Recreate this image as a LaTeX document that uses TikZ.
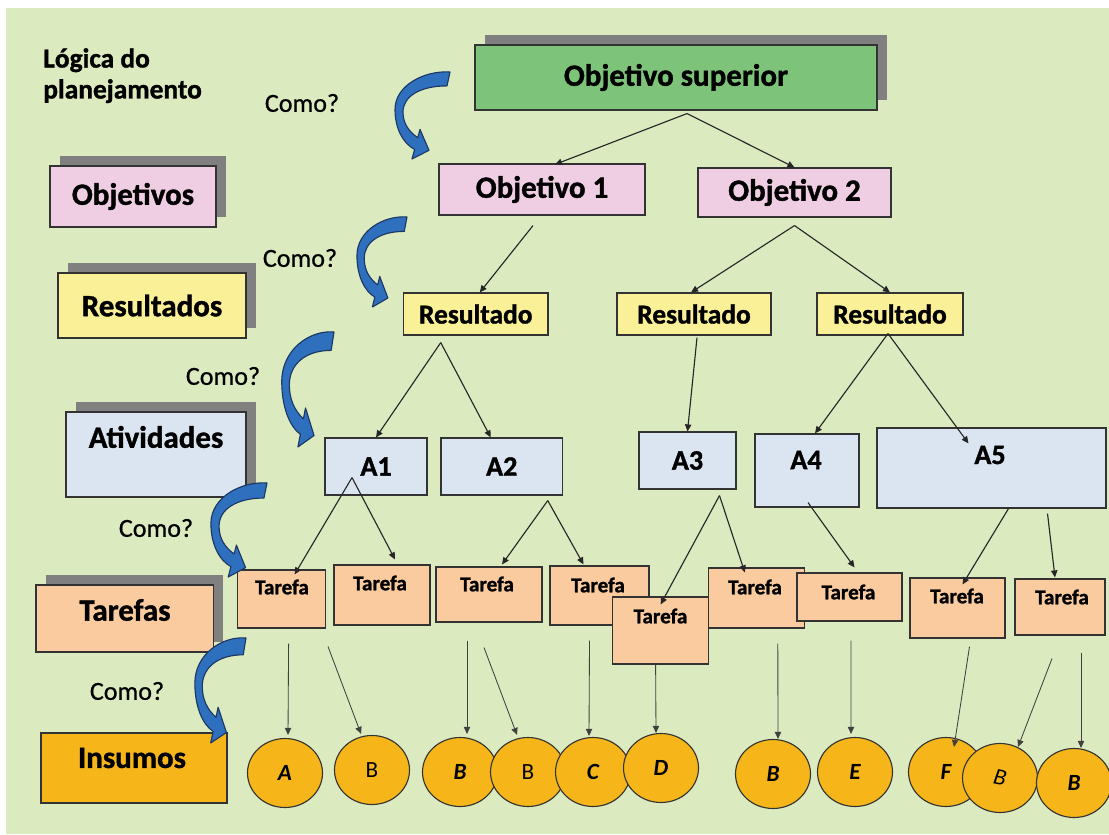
\documentclass[tikz,border=0pt]{standalone}
\usepackage{fontspec}
\usepackage{graphicx}
\setmainfont{Carlito}[BoldFeatures={FakeBold=1.2}]
\newfontfamily\comofont{Carlito}[FakeBold=0.8]
\usetikzlibrary{arrows.meta,shapes.geometric,shadows,calc}

\definecolor{fundo}{RGB}{220,234,192}
\definecolor{verde}{RGB}{125,196,122}
\definecolor{rosa}{RGB}{239,206,228}
\definecolor{amarelo}{RGB}{250,240,152}
\definecolor{azulclaro}{RGB}{219,229,241}
\definecolor{pessego}{RGB}{251,203,160}
\definecolor{laranja}{RGB}{246,182,26}
\definecolor{sombra}{RGB}{128,128,128}
\definecolor{azul}{RGB}{46,112,190}
\definecolor{azulescuro}{RGB}{28,55,100}

\tikzset{
  box/.style 2 args={draw=black!80, line width=0.8pt, inner sep=0pt,
    minimum width=#1*0.025cm, minimum height=#2*0.025cm},
  sombreado/.style={drop shadow={shadow xshift=7pt, shadow yshift=7pt, fill=sombra, opacity=1}},
  grande/.style={font=\bfseries\fontsize{22}{26}\selectfont},
  medio/.style={font=\bfseries\fontsize{20}{24}\selectfont},
  resfont/.style={font=\bfseries\fontsize{19.5}{23}\selectfont},
  tarefa/.style={font=\bfseries\fontsize{15}{18}\selectfont},
  titulo/.style={font=\bfseries\fontsize{19.5}{22}\selectfont, align=left, inner sep=0pt},
  como/.style={font=\comofont\fontsize{18.5}{22}\selectfont},
  insumo/.style={ellipse, draw=black!80, line width=0.8pt, fill=laranja, inner sep=0pt,
    minimum width=75*0.025cm, minimum height=69*0.025cm, font=\bfseries\fontsize{16.5}{18}\selectfont},
  liga/.style={-{Triangle[length=5pt,width=4.5pt]}, line width=0.8pt, draw=black!85},
  fluxo/.style={-{Triangle[length=5pt,width=4.5pt]}, line width=0.6pt, draw=black!75},
  comoarrow/.pic={
    \draw[fill=azul, draw=azulescuro, line width=0.8pt, line join=round]
      (0,0) .. controls (-25,-2) and (-55,15) .. (-55,43)
      .. controls (-55,65) and (-47,82) .. (-35.4,89)
      -- (-38,100) -- (-21,90) -- (-30,66) -- (-32.2,75.5)
      .. controls (-42,68) and (-47,58) .. (-47,46)
      .. controls (-47,28) and (-30,16) .. (-3,16) -- cycle;
  }
}

\begin{document}
\begin{tikzpicture}[x=0.025cm, y=-0.025cm]
\useasboundingbox (0,0) rectangle (1109,834);
\fill[white] (0,0) rectangle (1109,834);
\fill[fundo] (6,8) rectangle (1109,834);

% coluna da esquerda
\node[titulo, anchor=north west] (logica) at (43,48) {Lógica do\\planejamento};
\node[box={166}{61}, sombreado, fill=rosa, grande] (lobj) at (133,196.5) {Objetivos};
\node[box={188}{65}, sombreado, fill=amarelo, grande] (lres) at (152,305.5) {Resultados};
\node[box={180}{85}, sombreado, fill=azulclaro] (latv) at (156,454.5) {};
\node[grande] (latvx) at (156,437) {Atividades};
\node[box={177.5}{67}, sombreado, fill=pessego] (ltar) at (124.75,618.5) {};
\node[grande] (ltarx) at (125,610) {Tarefas};
\node[box={186}{70}, fill=laranja] (lins) at (134,768) {};
\node[grande] (linsx) at (132,758) {Insumos};

\node[como] (como1) at (302,103) {Como?};
\node[como] (como2) at (300,258) {Como?};
\node[como] (como3) at (223,376) {Como?};
\node[como] (como4) at (156,528) {Como?};
\node[como] (como5) at (127,691) {Como?};

% objetivos e resultados
\node[box={402}{65}, sombreado, fill=verde, grande] (objsup) at (676,77.5) {Objetivo superior};
\node[box={206}{51}, fill=rosa, grande] (obj1) at (542,189.5) {Objetivo 1};
\node[box={193}{49}, fill=rosa, grande] (obj2) at (794.5,192.5) {Objetivo 2};
\node[box={144.5}{42}, fill=amarelo, resfont] (res1) at (475.75,314) {Resultado};
\node[box={154}{42}, fill=amarelo, resfont] (res2) at (694,314) {Resultado};
\node[box={146}{42}, fill=amarelo, resfont] (res3) at (890,314) {Resultado};

% atividades
\node[box={102}{57}, fill=azulclaro, medio] (a1) at (376,466.5) {A1};
\node[box={121.5}{57}, fill=azulclaro, medio] (a2) at (501.75,466.5) {A2};
\node[box={97}{57}, fill=azulclaro, medio] (a3) at (687.5,460.5) {A3};
\node[box={104}{73}, fill=azulclaro] (a4) at (807,470.5) {};
\node[medio] (a4x) at (806,460) {A4};
\node[box={229}{80}, fill=azulclaro] (a5) at (991.5,468) {};
\node[medio] (a5x) at (990,455) {A5};

% tarefas
\node[box={88}{58}, fill=pessego] (t1) at (281.6,599) {};
\node[tarefa] (t1x) at (282,587) {Tarefa};
\node[box={96}{60}, fill=pessego] (t2) at (382,595) {};
\node[tarefa] (t2x) at (380,583) {Tarefa};
\node[box={106}{55}, fill=pessego] (t3) at (489,594.5) {};
\node[tarefa] (t3x) at (487,584) {Tarefa};
\node[box={99}{59}, fill=pessego] (t4) at (599.5,595.5) {};
\node[tarefa] (t4x) at (598,585) {Tarefa};
\node[box={96}{67}, fill=pessego] (t5) at (660.6,630.5) {};
\node[tarefa] (t5x) at (660.5,616) {Tarefa};
\node[box={96}{60}, fill=pessego] (t6) at (756.8,598) {};
\node[tarefa] (t6x) at (755,587) {Tarefa};
\node[box={105}{48}, fill=pessego] (t7) at (849.5,597) {};
\node[tarefa] (t7x) at (848.5,592) {Tarefa};
\node[box={95}{60}, fill=pessego] (t8) at (957.5,608) {};
\node[tarefa] (t8x) at (957,596) {Tarefa};
\node[box={90}{56}, fill=pessego] (t9) at (1060,607) {};
\node[tarefa] (t9x) at (1062,597) {Tarefa};

% insumos
\node[insumo] (i1) at (285,773) {\itshape A};
\node[insumo] (i2) at (372,770) {\mdseries B};
\node[insumo] (i3) at (460,772) {\itshape B};
\node[insumo] (i4) at (528,772) {\mdseries B};
\node[insumo] (i5) at (593,772) {\itshape C};
\node[insumo] (i6) at (661,768) {\itshape D};
\node[insumo] (i7) at (773,774) {\itshape B};
\node[insumo] (i8) at (855,772) {\itshape E};
\node[insumo] (i9) at (946,772) {\itshape F};
\node[insumo] (i10) at (1000,778) {\rotatebox{-12}{\mdseries\itshape B}};
\node[insumo] (i11) at (1074,783) {\itshape B};

% ligacoes
\draw[liga] ($(objsup.south)+(11,3)$) -- ($(obj1.north)+(13,1)$);
\draw[liga] ($(objsup.south)+(11,3)$) -- (obj2.north);
\draw[liga] ($(obj1.south)+(-9,10)$) -- ($(res1.north)+(4,0)$);
\draw[liga] ($(obj2.south)+(0,8)$) -- ($(res2.north)+(-3,0)$);
\draw[liga] ($(obj2.south)+(0,8)$) -- (res3.north);
\draw[liga] ($(res1.south)+(-35,7)$) -- (a1.north);
\draw[liga] ($(res1.south)+(-35,7)$) -- ($(a2.north)+(-11,0)$);
\draw[liga] ($(res2.south)+(3,2)$) -- (a3.north);
\draw[liga] ($(res3.south)+(-2,-2)$) -- ($(a4.north)+(8,0)$);
\draw[liga] ($(res3.south)+(-2,-2)$) -- ($(a5.north)+(-23,16)$);
\draw[liga] ($(a1.south)+(-24,-18)$) -- ($(t1.north)+(13,5)$);
\draw[liga] ($(a1.south)+(-24,-18)$) -- ($(t2.north)+(13,-5)$);
\draw[liga] ($(a2.south)+(46,5)$) -- ($(t3.north)+(13,-2)$);
\draw[liga] ($(a2.south)+(46,5)$) -- ($(t4.north)+(-16,-1)$);
\draw[liga] ($(a3.south)+(32,6)$) -- ($(t5.north)+(0,8)$);
\draw[liga] ($(a3.south)+(32,6)$) -- ($(t6.north)+(-12,5)$);
\draw[liga] ($(a4.south)+(1,-5)$) -- ($(t7.north)+(5,-5)$);
\draw[liga] ($(a5.south)+(17,0)$) -- ($(t8.north)+(5,7)$);
\draw[liga] ($(a5.south)+(56,5)$) -- ($(t9.north)+(-5,-1)$);

\draw[fluxo] ($(t1.south)+(7,15)$) -- ($(i1.north)+(3,-3)$);
\draw[fluxo] ($(t2.south)+(-54,21)$) -- ($(i2.north)+(-11,-1)$);
\draw[fluxo] ($(t3.south)+(-22,18)$) -- ($(i3.north)+(7,-3)$);
\draw[fluxo] ($(t3.south)+(-5,25)$) -- ($(i4.north)+(-11,-2)$);
\draw[fluxo] ($(t4.south)+(-10,15)$) -- ($(i5.north)+(-4,-1)$);
\draw[fluxo] ($(t5.south)+(-5,0)$) -- ($(i6.north)+(-5,0)$);
\draw[fluxo] ($(t6.south)+(21,15)$) -- ($(i7.north)+(5,0)$);
\draw[fluxo] ($(t7.south)+(1.5,19)$) -- ($(i8.north)+(-4,-3)$);
\draw[fluxo] ($(t8.south)+(12,8)$) -- ($(i9.north)+(8,10)$);
\draw[fluxo] ($(t9.south)+(-8,23)$) -- ($(i10.north)+(18,4)$);
\draw[fluxo] ($(t9.south)+(21,17)$) -- ($(i11.north)+(7,0)$);

% setas azuis
\pic[xscale=1.0, yscale=0.87] (seta1) at (450,72) {comoarrow};
\pic[xscale=0.91, yscale=0.9] (seta2) at (407,217) {comoarrow};
\pic[xscale=0.95, yscale=1.15] (seta3) at (334,332) {comoarrow};
\pic[xscale=1.02, yscale=0.94] (seta4) at (267,483) {comoarrow};
\pic[xscale=0.93, yscale=1.05] (seta5) at (246,638) {comoarrow};
\end{tikzpicture}
\end{document}
